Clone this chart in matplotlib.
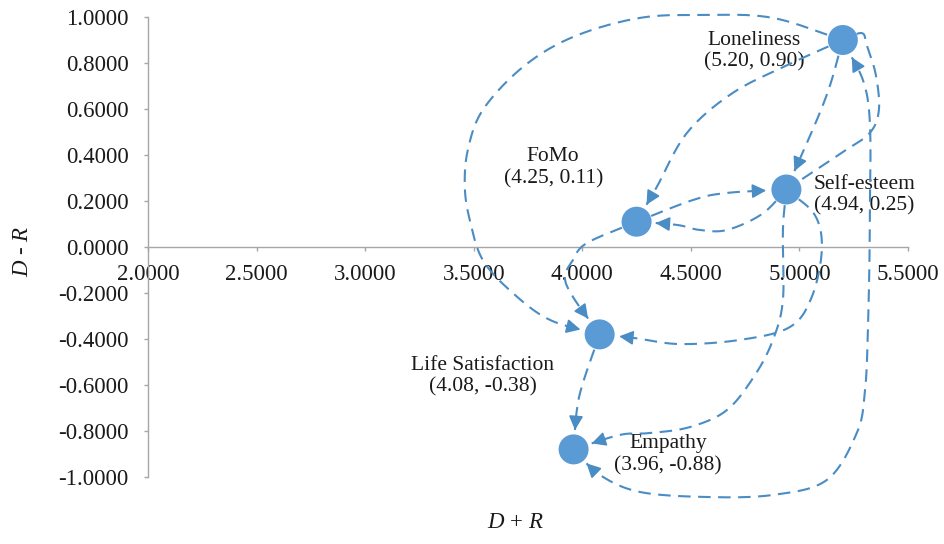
import matplotlib
matplotlib.use("Agg")
import matplotlib.pyplot as plt
from matplotlib.patches import FancyArrowPatch
import numpy as np

plt.rcParams.update({
    "font.family": "Liberation Serif",
    "mathtext.fontset": "custom",
    "mathtext.rm": "Liberation Serif",
    "mathtext.it": "Liberation Serif:italic",
})

NODE, EDGE, AXIS, INK = "#5b9bd5", "#4a8cc4", "#a6a6a6", "#1a1a1a"

# DEMATEL causal map: prominence (D+R) vs relation (D-R)
names = ["Loneliness", "Self-esteem", "FoMo", "Life Satisfaction", "Empathy"]
d_plus_r = [5.20, 4.94, 4.25, 4.08, 3.96]
d_minus_r = [0.90, 0.25, 0.11, -0.38, -0.88]
label_offsets = [(-64, -8), (56, -4), (-60, 39), (-84, -30), (68, -4)]  # points

x_ticks = [2.0, 2.5, 3.0, 3.5, 4.0, 4.5, 5.0, 5.5]
y_ticks = [1.0, 0.8, 0.6, 0.4, 0.2, 0.0, -0.2, -0.4, -0.6, -0.8, -1.0]

# influence links: source, target, routing points, head at source, head at target
links = [
    ("Loneliness", "FoMo", [(4.956, 0.796), (4.693, 0.670), (4.482, 0.496), (4.343, 0.261)], False, True),
    ("Loneliness", "Self-esteem", [(5.117, 0.639)], False, True),
    ("Loneliness", "Life Satisfaction",
     [(4.878, 0.996), (4.574, 1.009), (4.265, 0.996), (3.957, 0.913), (3.727, 0.783), (3.542, 0.596),
      (3.473, 0.422), (3.459, 0.261), (3.482, 0.117), (3.542, -0.057), (3.680, -0.200), (3.851, -0.317)],
     False, True),
    ("Loneliness", "Self-esteem",
     [(5.287, 0.930), (5.310, 0.878), (5.352, 0.748), (5.366, 0.596), (5.324, 0.496), (5.200, 0.413)],
     False, False),
    ("FoMo", "Self-esteem", [(4.509, 0.204), (4.666, 0.235)], False, True),
    ("Self-esteem", "FoMo", [(4.827, 0.143), (4.666, 0.074), (4.541, 0.074), (4.436, 0.096)], False, True),
    ("FoMo", "Life Satisfaction", [(4.021, 0.017), (3.957, -0.057), (3.920, -0.130), (3.957, -0.217)], False, True),
    ("Self-esteem", "Life Satisfaction",
     [(5.071, 0.139), (5.103, -0.013), (5.057, -0.217), (4.956, -0.348), (4.726, -0.404),
      (4.449, -0.422), (4.242, -0.396)], False, True),
    ("Self-esteem", "Empathy",
     [(4.924, 0.074), (4.924, -0.230), (4.878, -0.404), (4.795, -0.557), (4.666, -0.709),
      (4.495, -0.783), (4.311, -0.809), (4.173, -0.817)], False, True),
    ("Life Satisfaction", "Empathy", [(4.003, -0.591), (3.975, -0.709)], False, True),
    ("Empathy", "Loneliness",
     [(4.081, -0.991), (4.265, -1.065), (4.574, -1.087), (4.878, -1.078), (5.126, -1.013),
      (5.264, -0.809), (5.301, -0.635), (5.315, -0.374), (5.324, 0.117), (5.315, 0.639)], True, True),
]


def catmull_rom(pts, n=40):
    pts = np.asarray(pts, float)
    P = np.vstack([2 * pts[0] - pts[1], pts, 2 * pts[-1] - pts[-2]])
    t = np.linspace(0, 1, n, endpoint=False)[:, None]
    out = []
    for i in range(1, len(P) - 2):
        p0, p1, p2, p3 = P[i - 1], P[i], P[i + 1], P[i + 2]
        out.append(0.5 * (2 * p1 + (p2 - p0) * t + (2 * p0 - 5 * p1 + 4 * p2 - p3) * t ** 2
                          + (3 * p1 - p0 - 3 * p2 + p3) * t ** 3))
    out.append(P[-2][None])
    return np.vstack(out)


fig = plt.figure(figsize=(9.44, 5.44), dpi=100)
ax = fig.add_axes([148 / 944, 1 - 477 / 544, 760 / 944, 460 / 544])
ax.set_xlim(2.0, 5.5)
ax.set_ylim(-1.0, 1.0)

for s in ("top", "right"):
    ax.spines[s].set_visible(False)
ax.spines["bottom"].set_position(("data", 0))
for s in ("left", "bottom"):
    ax.spines[s].set_color(AXIS)
    ax.spines[s].set_linewidth(1.0)

ax.set_xticks(x_ticks)
ax.set_xticklabels([f"{v:.4f}" for v in x_ticks])
ax.set_yticks(y_ticks)
ax.set_yticklabels([f"{v:.4f}" for v in y_ticks])
ax.tick_params(axis="both", colors=AXIS, labelcolor=INK, labelsize=16.5, length=3, width=1.0)
ax.tick_params(axis="x", direction="out", pad=9)
ax.tick_params(axis="y", direction="out", pad=11)

pos = {n: (x, y) for n, x, y in zip(names, d_plus_r, d_minus_r)}
to_px = ax.transData.transform
to_data = ax.transData.inverted().transform
R0, R1 = 15, 19  # px gap at tail / at arrow tip

for src, dst, route, head_a, head_b in links:
    pts_px = to_px(np.array([pos[src]] + route + [pos[dst]]))
    curve = catmull_rom(pts_px)
    d0 = np.hypot(*(curve - pts_px[0]).T)
    d1 = np.hypot(*(curve - pts_px[-1]).T)
    i0 = np.argmax(d0 > (R1 if head_a else R0))
    i1 = len(curve) - 1 - np.argmax(d1[::-1] > (R1 if head_b else R0))
    curve = curve[i0:i1 + 1]
    cd = to_data(curve)
    ax.plot(cd[:, 0], cd[:, 1], color=EDGE, lw=1.5, clip_on=False, zorder=3,
            linestyle=(0, (6, 3.6)), dash_capstyle="butt")
    seg = np.concatenate([[0], np.cumsum(np.hypot(*np.diff(curve, axis=0).T))])
    for want, tip, side in ((head_b, -1, 1), (head_a, 0, -1)):
        if not want:
            continue
        if side == 1:
            k = np.argmax(seg > seg[-1] - 9)
        else:
            k = np.argmax(seg > 9)
        arr = FancyArrowPatch(posA=tuple(cd[k]), posB=tuple(cd[tip]),
                              arrowstyle="-|>,head_length=0.65,head_width=0.33",
                              mutation_scale=13, color=EDGE, lw=1.2,
                              shrinkA=0, shrinkB=0, clip_on=False, zorder=4)
        ax.add_patch(arr)

ax.scatter(d_plus_r, d_minus_r, s=21.6 ** 2, color=NODE, edgecolors="none", zorder=5, clip_on=False)

for n, x, y, off in zip(names, d_plus_r, d_minus_r, label_offsets):
    ax.annotate(f"{n}\n({x:.2f}, {y:.2f})", xy=(x, y), xytext=off, textcoords="offset points",
                ha="center", va="center", fontsize=15.5, linespacing=1.2, color=INK, zorder=2)

fig.text(22 / 944, 1 - 251 / 544, "$D$ - $R$", rotation=90, ha="center", va="center",
         fontsize=16.5, color=INK)
fig.text(515 / 944, 1 - 522 / 544, "$D$ + $R$", ha="center", va="center", fontsize=16.5, color=INK)

fig.savefig("out.png", dpi=100, facecolor="white")
